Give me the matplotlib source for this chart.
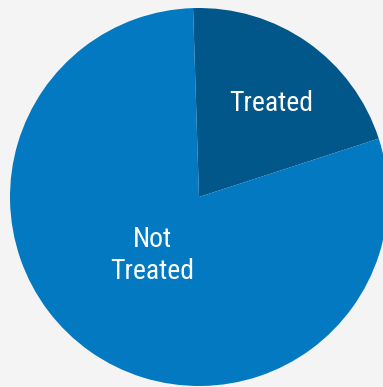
import numpy as np
import matplotlib.pyplot as plt

labels = ['Treated', 'Not\nTreated']
shares = [20.5, 79.5]
colors = ['#02578a', '#0279c1']
label_dist = [0.625, 0.395]
label_turn = [-2.3, -3.4]

fonts = ['Roboto Condensed', 'Liberation Sans Narrow', 'Liberation Sans']

fig = plt.figure(figsize=(3.83, 3.87), dpi=100, facecolor='#f4f4f4')
ax = fig.add_axes([0, 0, 1, 1])
ax.set_facecolor('#f4f4f4')

cx, cy, r = 199, 190, 189
wedges, _ = ax.pie(shares, colors=colors, startangle=91.8, counterclock=False,
                   center=(cx, cy), radius=r, frame=True,
                   wedgeprops=dict(linewidth=0))

# labels along each wedge's middle angle
for w, lab, d, turn in zip(wedges, labels, label_dist, label_turn):
    mid = np.deg2rad((w.theta1 + w.theta2) / 2 + turn)
    ax.text(cx + d * r * np.cos(mid), cy + d * r * np.sin(mid), lab,
            ha='center', va='center', color='white', fontsize=20,
            family=fonts, linespacing=1.25)

ax.set_xlim(0, 383)
ax.set_ylim(0, 387)
ax.set_aspect('equal')
ax.axis('off')

fig.savefig('out.png', dpi=100, facecolor=fig.get_facecolor())
